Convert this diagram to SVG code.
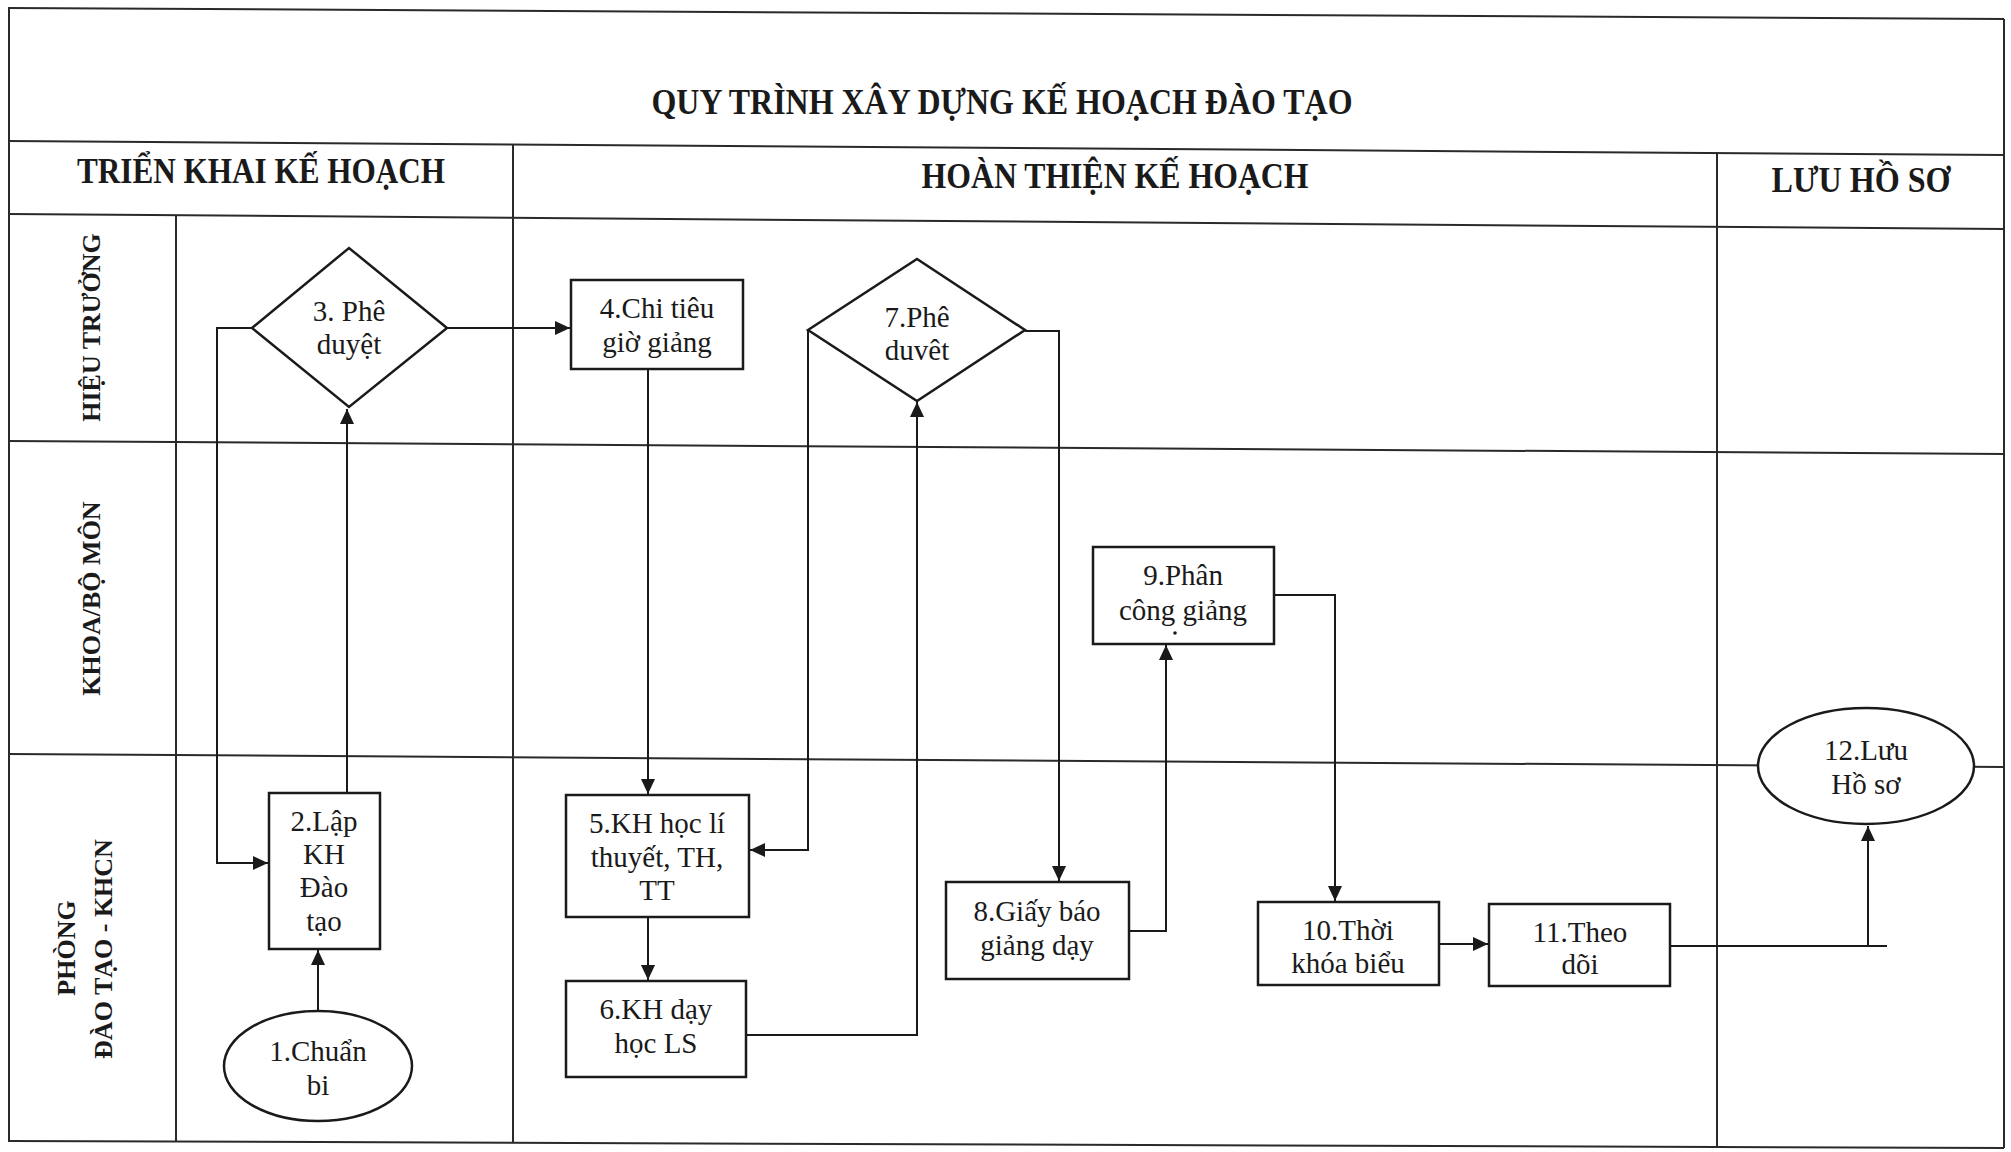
<svg xmlns="http://www.w3.org/2000/svg" width="2011" height="1152" viewBox="0 0 2011 1152">
<defs>
<marker id="arr" markerUnits="userSpaceOnUse" markerWidth="16" markerHeight="14" refX="15" refY="7" orient="auto">
<path d="M0,0 L15,7 L0,14 z" fill="#1a1a1a"/>
</marker>
<style>
.grid{stroke:#2a2a2a;stroke-width:2;fill:none}
.node{fill:#fff;stroke:#1a1a1a;stroke-width:2.5}
.t{font-family:"Liberation Serif","Times New Roman",serif;font-size:29px;fill:#1a1a1a;text-anchor:middle}
.h{font-family:"Liberation Serif","Times New Roman",serif;font-weight:bold;fill:#1a1a1a;text-anchor:middle}
.lane{font-family:"Liberation Serif","Times New Roman",serif;font-weight:bold;font-size:26px;fill:#1a1a1a;text-anchor:middle}
.c{stroke:#1a1a1a;stroke-width:2;fill:none}
</style>
</defs>
<rect width="2011" height="1152" fill="#fff"/>
<g id="grid">
<line class="grid" x1="8" y1="8" x2="2004" y2="19"/>
<line class="grid" x1="8" y1="141" x2="2004" y2="155"/>
<line class="grid" x1="8" y1="214" x2="2004" y2="229"/>
<line class="grid" x1="8" y1="441" x2="2004" y2="454"/>
<line class="grid" x1="8" y1="754" x2="2004" y2="767"/>
<line class="grid" x1="8" y1="1141" x2="2004" y2="1148"/>
<line class="grid" x1="9" y1="8" x2="9" y2="1141"/>
<line class="grid" x1="176" y1="215" x2="176" y2="1142"/>
<line class="grid" x1="513" y1="144" x2="513" y2="1143"/>
<line class="grid" x1="1717" y1="152" x2="1717" y2="1147"/>
<line class="grid" x1="2004" y1="19" x2="2004" y2="1148"/>
</g>
<g id="headers">
<text class="h" x="1002" y="114" font-size="36" textLength="701" lengthAdjust="spacingAndGlyphs">QUY TRÌNH XÂY DỰNG KẾ HOẠCH ĐÀO TẠO</text>
<text class="h" x="261" y="183" font-size="36" textLength="368" lengthAdjust="spacingAndGlyphs">TRIỂN KHAI KẾ HOẠCH</text>
<text class="h" x="1115" y="188" font-size="36" textLength="387" lengthAdjust="spacingAndGlyphs">HOÀN THIỆN KẾ HOẠCH</text>
<text class="h" x="1861" y="192" font-size="36" textLength="179" lengthAdjust="spacingAndGlyphs">LƯU HỒ SƠ</text>
</g>
<g id="lanes">
<text class="lane" transform="translate(100,327.5) rotate(-90)">HIỆU TRƯỞNG</text>
<text class="lane" transform="translate(100,598.5) rotate(-90)">KHOA/BỘ MÔN</text>
<text class="lane" transform="translate(75,948) rotate(-90)">PHÒNG</text>
<text class="lane" transform="translate(112,949) rotate(-90)">ĐÀO TẠO - KHCN</text>
</g>
<g id="connectors">
<line class="c" x1="318" y1="1011" x2="318" y2="950" marker-end="url(#arr)"/>
<line class="c" x1="347" y1="793" x2="347" y2="409" marker-end="url(#arr)"/>
<polyline class="c" points="252,328 217,328 217,863 268,863" marker-end="url(#arr)"/>
<line class="c" x1="447" y1="328" x2="570" y2="328" marker-end="url(#arr)"/>
<line class="c" x1="648" y1="369" x2="648" y2="794" marker-end="url(#arr)"/>
<polyline class="c" points="808,330 808,850 750,850" marker-end="url(#arr)"/>
<line class="c" x1="648" y1="917" x2="648" y2="980" marker-end="url(#arr)"/>
<polyline class="c" points="746,1035 917,1035 917,402" marker-end="url(#arr)"/>
<polyline class="c" points="1025,331 1059,331 1059,881" marker-end="url(#arr)"/>
<polyline class="c" points="1129,931 1166,931 1166,645" marker-end="url(#arr)"/>
<polyline class="c" points="1274,595 1335,595 1335,901" marker-end="url(#arr)"/>
<line class="c" x1="1439" y1="944" x2="1488" y2="944" marker-end="url(#arr)"/>
<line class="c" x1="1671" y1="946" x2="1887" y2="946"/>
<line class="c" x1="1868" y1="946" x2="1868" y2="826" marker-end="url(#arr)"/>
</g>
<g id="n1">
<ellipse class="node" cx="318" cy="1066" rx="94" ry="55"/>
<text class="t" x="318" y="1061">1.Chuẩn</text>
<text class="t" x="318" y="1095">bi</text>
</g>
<g id="n2">
<rect class="node" x="269" y="793" width="111" height="156"/>
<text class="t" x="324" y="831">2.Lập</text>
<text class="t" x="324" y="864">KH</text>
<text class="t" x="324" y="897">Đào</text>
<text class="t" x="324" y="931">tạo</text>
</g>
<g id="n3">
<polygon class="node" points="252,328 349,248 447,328 349,407"/>
<text class="t" x="349" y="321">3. Phê</text>
<text class="t" x="349" y="354">duyệt</text>
</g>
<g id="n4">
<rect class="node" x="571" y="280" width="172" height="89"/>
<text class="t" x="657" y="318">4.Chi tiêu</text>
<text class="t" x="657" y="352">giờ giảng</text>
</g>
<g id="n5">
<rect class="node" x="566" y="795" width="183" height="122"/>
<text class="t" x="657" y="833">5.KH học lí</text>
<text class="t" x="657" y="867">thuyết, TH,</text>
<text class="t" x="657" y="900">TT</text>
</g>
<g id="n6">
<rect class="node" x="566" y="981" width="180" height="96"/>
<text class="t" x="656" y="1019">6.KH dạy</text>
<text class="t" x="656" y="1053">học LS</text>
</g>
<g id="n7">
<polygon class="node" points="808,330 917,259 1025,330 917,401"/>
<text class="t" x="917" y="327">7.Phê</text>
<text class="t" x="917" y="360">duvêt</text>
</g>
<g id="n8">
<rect class="node" x="946" y="882" width="183" height="97"/>
<text class="t" x="1037" y="921">8.Giấy báo</text>
<text class="t" x="1037" y="955">giảng dạy</text>
</g>
<g id="n9">
<rect class="node" x="1093" y="547" width="181" height="97"/>
<text class="t" x="1183" y="585">9.Phân</text>
<text class="t" x="1183" y="620">công giảng</text>
<circle cx="1175" cy="633" r="1.8" fill="#1a1a1a"/>
</g>
<g id="n10">
<rect class="node" x="1258" y="902" width="181" height="83"/>
<text class="t" x="1348" y="940">10.Thời</text>
<text class="t" x="1348" y="973">khóa biểu</text>
</g>
<g id="n11">
<rect class="node" x="1489" y="904" width="181" height="82"/>
<text class="t" x="1580" y="942">11.Theo</text>
<text class="t" x="1580" y="974">dõi</text>
</g>
<g id="n12">
<ellipse class="node" cx="1866" cy="766" rx="108" ry="58"/>
<text class="t" x="1866" y="760">12.Lưu</text>
<text class="t" x="1866" y="794">Hồ sơ</text>
</g>
</svg>
